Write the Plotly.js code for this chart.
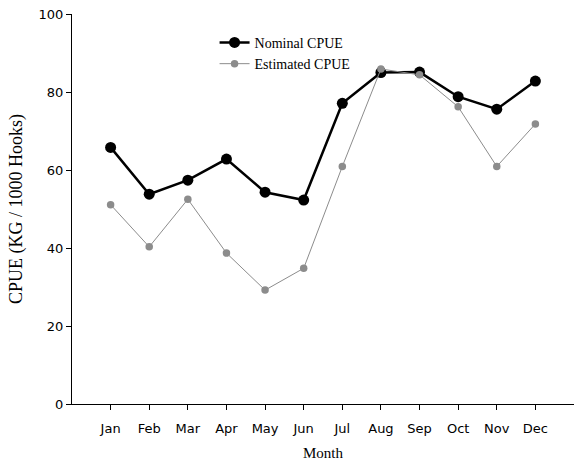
<!DOCTYPE html>
<html>
<head>
<meta charset="utf-8">
<script src="https://cdn.plot.ly/plotly-3.0.1.min.js"></script>
<style>html,body{margin:0;padding:0;background:#fff;}#chart{width:574px;height:463px;}</style>
</head>
<body>
<div id="chart"></div>
<script>
const months = ["Jan","Feb","Mar","Apr","May","Jun","Jul","Aug","Sep","Oct","Nov","Dec"];
const nominalCPUE = [65.8, 53.8, 57.4, 62.8, 54.3, 52.3, 77.1, 85.0, 85.1, 78.8, 75.6, 82.8];
const estimatedCPUE = [51.1, 40.3, 52.5, 38.7, 29.2, 34.8, 60.9, 85.9, 84.4, 76.2, 60.9, 71.8];
const yTicks = [0, 20, 40, 60, 80, 100];

const idx = months.map((m, i) => i);

const traces = [
  {
    x: idx, y: nominalCPUE, name: "Nominal CPUE", type: "scatter", mode: "lines+markers",
    line: {color: "#000000", width: 2.5},
    marker: {color: "#000000", size: 11}
  },
  {
    x: idx, y: estimatedCPUE, name: "Estimated CPUE", type: "scatter", mode: "lines+markers",
    line: {color: "#8c8c8c", width: 1},
    marker: {color: "#8c8c8c", size: 7.5}
  }
];

const layout = {
  width: 574, height: 463,
  margin: {l: 72, r: 0, t: 14, b: 59},
  paper_bgcolor: "#ffffff", plot_bgcolor: "#ffffff",
  showlegend: true,
  legend: {
    x: 0.284, y: 0.967, xanchor: "left", yanchor: "top",
    font: {family: "Liberation Serif", size: 14, color: "#000"},
    bgcolor: "rgba(0,0,0,0)", tracegroupgap: 0, itemwidth: 30
  },
  xaxis: {
    range: [-1, 12],
    tickmode: "array", tickvals: idx, ticktext: months,
    showgrid: false, zeroline: false,
    showline: true, linecolor: "#000", linewidth: 1,
    ticks: "outside", ticklen: 5, tickcolor: "#000",
    tickfont: {family: "DejaVu Sans", size: 13, color: "#000"},
    ticklabelstandoff: 7,
    title: {text: "Month", font: {family: "Liberation Serif", size: 15, color: "#000"}, standoff: 12}
  },
  yaxis: {
    range: [0, 100],
    tickmode: "array", tickvals: yTicks, ticktext: yTicks.map(String),
    showgrid: false, zeroline: false,
    showline: true, linecolor: "#000", linewidth: 1,
    ticks: "outside", ticklen: 5, tickcolor: "#000",
    tickfont: {family: "DejaVu Sans", size: 13, color: "#000"},
    title: {text: "CPUE (KG / 1000 Hooks)", font: {family: "Liberation Serif", size: 18, color: "#000"}, standoff: 11}
  }
};

Plotly.newPlot("chart", traces, layout, {displayModeBar: false, staticPlot: true});
</script>
</body>
</html>
